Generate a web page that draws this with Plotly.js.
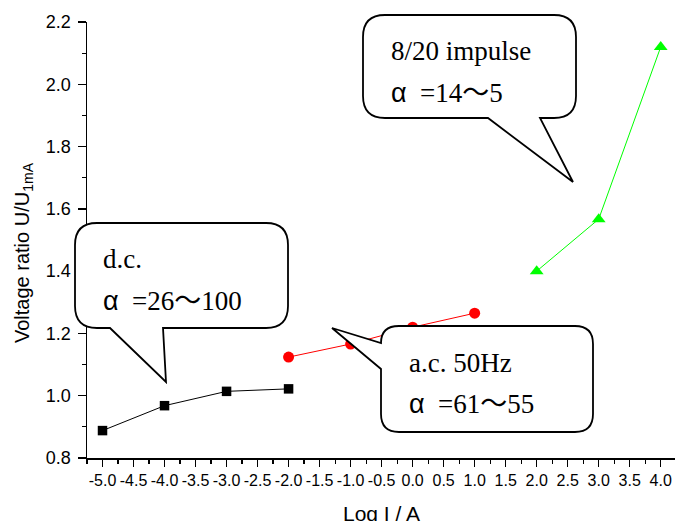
<!DOCTYPE html>
<html>
<head>
<meta charset="utf-8">
<script src="https://cdn.plot.ly/plotly-3.0.1.min.js"></script>
<style>html,body{margin:0;padding:0;background:#fff;}#chart{width:675px;height:521px;}</style>
</head>
<body>
<div id="chart"></div>
<script>
// ---- data ----
const dcX = [-5, -4, -3, -2];
const dcY = [0.888, 0.968, 1.014, 1.022];
const acX = [-2, -1, 0, 1];
const acY = [1.124, 1.166, 1.220, 1.265];
const impX = [2, 3, 4];
const impY = [1.400, 1.567, 2.120];

const xTickVals = [-5.0,-4.5,-4.0,-3.5,-3.0,-2.5,-2.0,-1.5,-1.0,-0.5,0.0,0.5,1.0,1.5,2.0,2.5,3.0,3.5,4.0];
const xTickText = ["-5.0","-4.5","-4.0","-3.5","-3.0","-2.5","-2.0","-1.5","-1.0","-0.5","0.0","0.5","1.0","1.5","2.0","2.5","3.0","3.5","4.0"];
const yTickVals = [0.8,1.0,1.2,1.4,1.6,1.8,2.0,2.2];
const yTickText = ["0.8","1.0","1.2","1.4","1.6","1.8","2.0","2.2"];

const yTitle = "Voltage ratio U/U<sub>1mA</sub>";
const xTitle = "Log I / A";
const calloutText = {
  dc: ["d.c.", "=26～100"],
  ac: ["a.c. 50Hz", "=61～55"],
  imp: ["8/20 impulse", "=14～5"]
};

// ---- layout geometry (pixels) ----
const W = 675, H = 521;
const L = 87, R = 675, T = 22, B = 458;
const px = v => (v - L) / (R - L);
const py = v => (B - v) / (B - T);
const P = (x, y) => px(x).toFixed(5) + "," + py(y).toFixed(5);

function bubbleBottom(l, t, r, b, rad, tailA, tailB, tip) {
  return "M" + P(l + rad, t) + " L" + P(r - rad, t) + " Q" + P(r, t) + " " + P(r, t + rad) +
    " L" + P(r, b - rad) + " Q" + P(r, b) + " " + P(r - rad, b) +
    " L" + P(tailB, b) + " L" + P(tip[0], tip[1]) + " L" + P(tailA, b) +
    " L" + P(l + rad, b) + " Q" + P(l, b) + " " + P(l, b - rad) +
    " L" + P(l, t + rad) + " Q" + P(l, t) + " " + P(l + rad, t) + " Z";
}
function bubbleLeft(l, t, r, b, rad, joinLow, joinHigh, tip) {
  return "M" + P(l + rad, t) + " L" + P(r - rad, t) + " Q" + P(r, t) + " " + P(r, t + rad) +
    " L" + P(r, b - rad) + " Q" + P(r, b) + " " + P(r - rad, b) +
    " L" + P(l + rad, b) + " Q" + P(l, b) + " " + P(l, b - rad) +
    " L" + P(l, joinLow) + " L" + P(tip[0], tip[1]) + " L" + P(l, joinHigh) +
    " Q" + P(l, t) + " " + P(l + rad, t) + " Z";
}

const shapeStyle = {type: "path", xref: "paper", yref: "paper", layer: "above",
  fillcolor: "#ffffff", line: {color: "#000000", width: 1.8}};

const shapes = [
  Object.assign({path: bubbleBottom(75, 223, 288, 328, 22, 110, 163, [166, 382])}, shapeStyle),
  Object.assign({path: bubbleBottom(363, 15, 576, 118, 22, 488, 540, [573, 182])}, shapeStyle),
  Object.assign({path: bubbleLeft(381, 326, 593, 432, 18, 369, 343, [332, 328])}, shapeStyle)
];

const serif = "Liberation Serif, 'Times New Roman', 'Noto Sans CJK SC', serif";
const cFS = 27;
function textAnn(left, baseline, txt, alpha) {
  const t = alpha ? '<span style="font-family:Liberation Sans, Arial, sans-serif">α</span>\u00a0\u00a0' + txt : txt;
  return {xref: "paper", yref: "paper", x: px(left), y: py(baseline - 0.33 * cFS),
    xanchor: "left", yanchor: "middle", showarrow: false, text: t,
    font: {family: serif, size: cFS, color: "#000"}};
}

const annotations = [
  textAnn(101, 268, calloutText.dc[0], false),
  textAnn(101, 310, calloutText.dc[1], true),
  textAnn(389, 60, calloutText.imp[0], false),
  textAnn(389, 102, calloutText.imp[1], true),
  textAnn(407, 372, calloutText.ac[0], false),
  textAnn(407, 413, calloutText.ac[1], true),
  {xref: "paper", yref: "paper", x: px(23), y: py(253), xanchor: "center", yanchor: "middle",
   textangle: -90, showarrow: false, text: yTitle,
   font: {family: "Liberation Sans, Arial, sans-serif", size: 20, color: "#000"}},
  {xref: "paper", yref: "paper", x: px(381), y: py(500), xanchor: "center", yanchor: "top",
   showarrow: false, text: xTitle,
   font: {family: "Liberation Sans, Arial, sans-serif", size: 21, color: "#000"}}
];

const traces = [
  {x: dcX, y: dcY, type: "scatter", mode: "lines+markers", name: "d.c.",
   line: {color: "#000000", width: 1}, marker: {symbol: "square", size: 9.5, color: "#000000"}},
  {x: acX, y: acY, type: "scatter", mode: "lines+markers", name: "a.c. 50Hz",
   line: {color: "#ff0000", width: 1}, marker: {symbol: "circle", size: 11, color: "#ff0000"}},
  {x: impX, y: impY, type: "scatter", mode: "lines+markers", name: "8/20 impulse",
   line: {color: "#00ff00", width: 1}, marker: {symbol: "triangle-up", size: 12, color: "#00ff00"}}
];

const layout = {
  width: W, height: H, autosize: false,
  margin: {l: L, r: W - R, t: T, b: H - B, pad: 0},
  paper_bgcolor: "#ffffff", plot_bgcolor: "#ffffff",
  showlegend: false,
  xaxis: {range: [-5.25, 4.23], tickmode: "array", tickvals: xTickVals, ticktext: xTickText,
    tickangle: 0,
    showgrid: false, zeroline: false, showline: true, linecolor: "#000", linewidth: 1.5,
    ticks: "outside", ticklen: 7, tickwidth: 1.5, tickcolor: "#000",
    minor: {dtick: 0.25, tick0: 0, ticks: "outside", ticklen: 4, tickwidth: 1.2, tickcolor: "#000", showgrid: false},
    tickfont: {family: "Liberation Sans, Arial, sans-serif", size: 16, color: "#000"},
    fixedrange: true},
  yaxis: {range: [0.8, 2.2], tickmode: "array", tickvals: yTickVals, ticktext: yTickText,
    showgrid: false, zeroline: false, showline: true, linecolor: "#000", linewidth: 1.5,
    ticks: "outside", ticklen: 8, tickwidth: 1.5, tickcolor: "#000",
    minor: {dtick: 0.1, tick0: 0, ticks: "outside", ticklen: 4, tickwidth: 1.2, tickcolor: "#000", showgrid: false},
    tickfont: {family: "Liberation Sans, Arial, sans-serif", size: 18, color: "#000"},
    ticklabelstandoff: 3,
    fixedrange: true},
  shapes: shapes,
  annotations: annotations
};

Plotly.newPlot("chart", traces, layout, {displayModeBar: false, staticPlot: true});
</script>
</body>
</html>
